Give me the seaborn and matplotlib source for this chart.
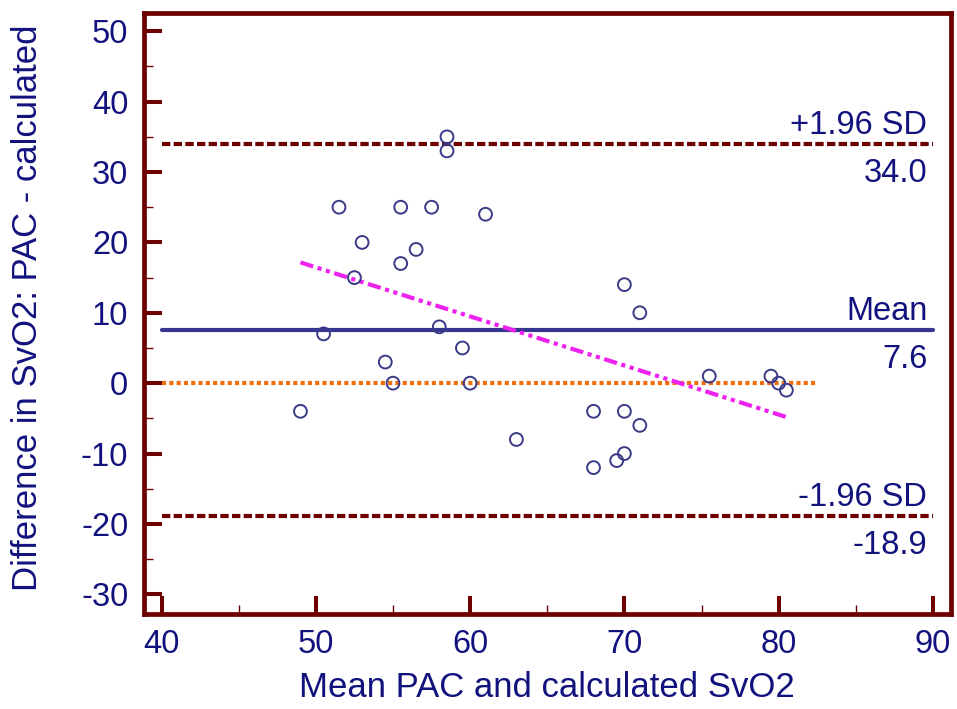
import matplotlib
matplotlib.use("Agg")
import matplotlib.pyplot as plt
from matplotlib.ticker import MultipleLocator
import numpy as np
import pandas as pd
import seaborn as sns

# Bland-Altman data: mean of the two methods vs. their difference
mean_values = [49, 50.5, 51.5, 52.5, 53, 54.5, 55, 55.5, 55.5, 56.5,
               57.5, 58, 58.5, 58.5, 59.5, 60, 61, 63, 68, 68,
               69.5, 70, 70, 70, 71, 71, 75.5, 79.5, 80, 80.5]
diff_values = [-4, 7, 25, 15, 20, 3, 0, 25, 17, 19,
               25, 8, 35, 33, 5, 0, 24, -8, -4, -12,
               -11, -10, -4, 14, 10, -6, 1, 1, 0, -1]

mean_diff = 7.6
upper_loa = 34.0
lower_loa = -18.9
zero_line_span = [40, 82.5]
ref_line_span = [40, 90]

x_ticks = [40, 50, 60, 70, 80, 90]
y_ticks = [-30, -20, -10, 0, 10, 20, 30, 40, 50]

df = pd.DataFrame({"mean": mean_values, "diff": diff_values})

NAVY = "#12127e"
MAROON = "#6e0000"
LINE_NAVY = "#363690"
ORANGE = "#f07010"
MAGENTA = "#ee22ee"

sns.set_theme(style="white")
plt.rcParams["font.family"] = ["Liberation Sans", "DejaVu Sans"]
plt.rcParams["axes.unicode_minus"] = False

fig = plt.figure(figsize=(9.57, 7.09), dpi=100)
ax = fig.add_axes([0.150, 0.134, 0.8437, 0.8477])

# reference lines
ax.plot(zero_line_span, [0, 0], color=ORANGE, lw=3.0,
        linestyle=(0, (1.0, 0.75)), solid_capstyle="butt", zorder=2)
ax.plot(ref_line_span, [mean_diff, mean_diff], color=LINE_NAVY, lw=3.0, zorder=2)
for v in (upper_loa, lower_loa):
    ax.plot(ref_line_span, [v, v], color=MAROON, lw=3.0,
            linestyle=(0, (2.0, 0.8)), zorder=2)

# regression of difference on mean
sns.regplot(data=df, x="mean", y="diff", scatter=False, ci=None, ax=ax,
            line_kws=dict(color=MAGENTA, lw=3.0,
                          linestyle=(0, (3.2, 1.1, 1.0, 1.1, 1.0, 1.1))))

sns.scatterplot(data=df, x="mean", y="diff", ax=ax, marker="o", s=85,
                facecolor="none", edgecolor="#3a3a88", linewidth=1.4, zorder=3)

# line annotations
def label_line(value, top_text, bottom_text):
    ax.annotate(top_text, xy=(90, value), xytext=(-4, 7), textcoords="offset points",
                ha="right", va="baseline", fontsize=23.5, color=NAVY)
    ax.annotate(bottom_text, xy=(90, value), xytext=(-4, -10), textcoords="offset points",
                ha="right", va="top", fontsize=23.5, color=NAVY)

label_line(upper_loa, "+1.96 SD", f"{upper_loa:.1f}")
label_line(mean_diff, "Mean", f"{mean_diff:.1f}")
label_line(lower_loa, "-1.96 SD", f"{lower_loa:.1f}")

ax.set_xlim(38.83, 91.17)
ax.set_ylim(-32.8, 52.6)
ax.set_xticks(x_ticks)
ax.set_yticks(y_ticks)
ax.xaxis.set_minor_locator(MultipleLocator(5))
ax.yaxis.set_minor_locator(MultipleLocator(5))

ax.tick_params(which="both", bottom=True, left=True, top=False, right=False)
ax.tick_params(which="major", direction="in", length=13, width=2.9,
               color=MAROON, labelsize=23.5, labelcolor=NAVY, pad=11)
ax.tick_params(which="minor", direction="in", length=6.5, width=1.0, color=MAROON)

for sp in ax.spines.values():
    sp.set_color(MAROON)
    sp.set_linewidth(3.4)

ax.set_xlabel("Mean PAC and calculated SvO2", fontsize=25, color=NAVY, labelpad=8)
ax.set_ylabel("Difference in SvO2: PAC - calculated", fontsize=25, color=NAVY)
ax.yaxis.set_label_coords(-0.123, 0.51)
ax.grid(False)

fig.savefig("out.png", dpi=100)
